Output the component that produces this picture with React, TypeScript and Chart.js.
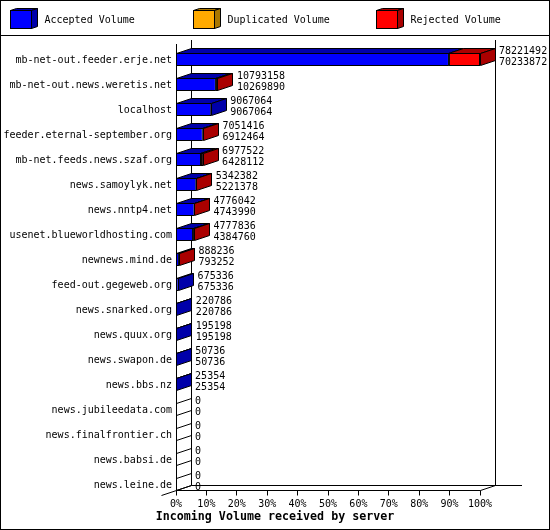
import React, { useEffect, useRef } from 'react';
import { Chart, registerables } from 'chart.js';
Chart.register(...registerables);

const servers = [
  'mb-net-out.feeder.erje.net',
  'mb-net-out.news.weretis.net',
  'localhost',
  'feeder.eternal-september.org',
  'mb-net.feeds.news.szaf.org',
  'news.samoylyk.net',
  'news.nntp4.net',
  'usenet.blueworldhosting.com',
  'newnews.mind.de',
  'feed-out.gegeweb.org',
  'news.snarked.org',
  'news.quux.org',
  'news.swapon.de',
  'news.bbs.nz',
  'news.jubileedata.com',
  'news.finalfrontier.ch',
  'news.babsi.de',
  'news.leine.de',
];
const offered = [78221492, 10793158, 9067064, 7051416, 6977522, 5342382, 4776042, 4777836, 888236, 675336, 220786, 195198, 50736, 25354, 0, 0, 0, 0];
const accepted = [70233872, 10269890, 9067064, 6912464, 6428112, 5221378, 4743990, 4384760, 793252, 675336, 220786, 195198, 50736, 25354, 0, 0, 0, 0];
const duplicated = [0, 0, 0, 0, 0, 0, 0, 0, 0, 0, 0, 0, 0, 0, 0, 0, 0, 0];
const rejected = [7987620, 523268, 0, 138952, 549410, 121004, 32052, 393076, 94984, 0, 0, 0, 0, 0, 0, 0, 0, 0];

const seriesNames = ['Accepted Volume', 'Duplicated Volume', 'Rejected Volume'];
const seriesColors = ['#0000ff', '#ffaa00', '#ff0000'];
const seriesDark = ['#0000aa', '#aa7700', '#aa0000'];
const chartTitle = 'Incoming Volume received by server';

const MONO = '"DejaVu Sans Mono", monospace';
const DEPTH_X = 15;
const DEPTH_Y = 5;

const poly = (ctx: CanvasRenderingContext2D, pts: number[][], fill: string | null) => {
  ctx.beginPath();
  pts.forEach((p, i) => (i ? ctx.lineTo(p[0], p[1]) : ctx.moveTo(p[0], p[1])));
  ctx.closePath();
  if (fill) {
    ctx.fillStyle = fill;
    ctx.fill();
  }
  ctx.stroke();
};

const line = (ctx: CanvasRenderingContext2D, x0: number, y0: number, x1: number, y1: number) => {
  ctx.beginPath();
  ctx.moveTo(x0, y0);
  ctx.lineTo(x1, y1);
  ctx.stroke();
};

// everything gd drew around the bars: frame, legend, walls and the bar depth
const depthPlugin = {
  id: 'depth',
  beforeDatasetsDraw(chart: any) {
    const { ctx, scales } = chart;
    const x = scales.x;
    const px = (v: number) => Math.floor(x.getPixelForValue(v)) + 0.5;
    const left = px(0);
    const right = px(offered[0]);
    const front = 490.5;
    const back = front - DEPTH_Y;

    ctx.save();
    ctx.strokeStyle = '#000';
    ctx.lineWidth = 1;

    // frame and legend strip
    ctx.strokeRect(0.5, 0.5, 549, 529);
    line(ctx, 0, 35.5, 550, 35.5);
    seriesNames.forEach((name, i) => {
      const bx = 10.5 + i * 183;
      const by = 10.5;
      poly(ctx, [[bx, by], [bx + 6, by - 2], [bx + 27, by - 2], [bx + 21, by]], seriesDark[i]);
      poly(ctx, [[bx + 21, by], [bx + 27, by - 2], [bx + 27, by + 16], [bx + 21, by + 18]], seriesDark[i]);
      ctx.fillStyle = seriesColors[i];
      ctx.fillRect(bx, by, 21, 18);
      ctx.strokeRect(bx, by, 21, 18);
      ctx.fillStyle = '#000';
      ctx.font = `10px ${MONO}`;
      ctx.textAlign = 'left';
      ctx.textBaseline = 'middle';
      ctx.fillText(name, bx + 34, 20);
    });

    // walls and floor
    line(ctx, left, 44, left, front);
    line(ctx, left + DEPTH_X, 40, left + DEPTH_X, back);
    line(ctx, right + DEPTH_X, 40, right + DEPTH_X, back);
    line(ctx, left, front, right, front);
    line(ctx, left + DEPTH_X, back, 522, back);
    line(ctx, left - DEPTH_X, front + DEPTH_Y, left + DEPTH_X, back);
    line(ctx, right, front, right + DEPTH_X, back);
    x.ticks.forEach((t: any) => {
      const tx = px(t.value);
      line(ctx, tx, front, tx, front + 5);
    });

    // top and side faces behind the front rectangles
    servers.forEach((_, row) => {
      const yc = scales.y.getPixelForValue(row);
      const top = Math.floor(yc - 6.5) + 0.5;
      const bottom = top + 12;
      if (offered[row] === 0) {
        line(ctx, left, top, left + DEPTH_X, top - DEPTH_Y);
        line(ctx, left, bottom, left + DEPTH_X, bottom - DEPTH_Y);
        return;
      }
      let from = 0;
      [accepted[row], duplicated[row], rejected[row]].forEach((v, s) => {
        if (v === 0) return;
        const x0 = px(from);
        const x1 = px(from + v);
        poly(ctx, [[x0, top], [x1, top], [x1 + DEPTH_X, top - DEPTH_Y], [x0 + DEPTH_X, top - DEPTH_Y]], seriesDark[s]);
        from += v;
      });
      const end = px(offered[row]);
      const last = rejected[row] > 0 ? 2 : duplicated[row] > 0 ? 1 : 0;
      poly(ctx, [[end, top], [end + DEPTH_X, top - DEPTH_Y], [end + DEPTH_X, bottom - DEPTH_Y], [end, bottom]], seriesDark[last]);
    });
    ctx.restore();
  },
  afterDatasetsDraw(chart: any) {
    const { ctx, scales } = chart;
    ctx.save();
    ctx.fillStyle = '#000';
    ctx.font = `10px ${MONO}`;
    ctx.textAlign = 'left';
    ctx.textBaseline = 'middle';
    servers.forEach((_, row) => {
      const yc = Math.floor(scales.y.getPixelForValue(row));
      const tx = scales.x.getPixelForValue(offered[row]) + DEPTH_X + 4;
      ctx.fillText(String(offered[row]), tx, yc - 8);
      ctx.fillText(String(accepted[row]), tx, yc + 3);
    });
    // centred on the whole image, not on the plot
    ctx.font = `bold 11.67px ${MONO}`;
    ctx.textAlign = 'center';
    ctx.fillText(chartTitle, 275, 517);
    ctx.restore();
  },
};

const App: React.FC = () => {
  const canvasRef = useRef<HTMLCanvasElement>(null);

  useEffect(() => {
    if (!canvasRef.current) return;
    const maxVolume = offered[0];
    const chart = new Chart(canvasRef.current, {
      type: 'bar',
      data: {
        labels: servers,
        datasets: [accepted, duplicated, rejected].map((data, i) => ({
          label: seriesNames[i],
          data,
          backgroundColor: seriesColors[i],
          borderColor: '#000',
          borderWidth: 1,
          borderSkipped: false,
          inflateAmount: 0,
          barThickness: 13,
        })),
      },
      options: {
        indexAxis: 'y',
        animation: false,
        responsive: false,
        devicePixelRatio: 1,
        layout: { padding: { top: 47, right: 70, left: 0, bottom: 0 } },
        plugins: { legend: { display: false }, tooltip: { enabled: false } },
        scales: {
          x: {
            stacked: true,
            min: 0,
            max: maxVolume,
            grid: { display: false, drawTicks: false },
            border: { display: false },
            afterFit: (scale: any) => { scale.height = 33; },
            ticks: {
              stepSize: maxVolume / 10,
              autoSkip: false,
              maxRotation: 0,
              padding: 1,
              color: '#000',
              font: { family: MONO, size: 10 },
              callback: (v: any) => `${Math.round((Number(v) / maxVolume) * 100)}%`,
            },
          },
          y: {
            stacked: true,
            grid: { display: false, drawTicks: false },
            border: { display: false },
            afterFit: (scale: any) => { scale.width = 176; },
            ticks: {
              autoSkip: false,
              padding: 4,
              labelOffset: 0.5,
              color: '#000',
              font: { family: MONO, size: 10 },
            },
          },
        },
      },
      plugins: [depthPlugin],
    } as any);
    return () => chart.destroy();
  }, []);

  return (
    <div style={{ position: 'absolute', left: 0, top: 0, width: 550, height: 530, background: '#fff' }}>
      <canvas ref={canvasRef} width={550} height={530} style={{ display: 'block' }}></canvas>
    </div>
  );
};

export default App;
